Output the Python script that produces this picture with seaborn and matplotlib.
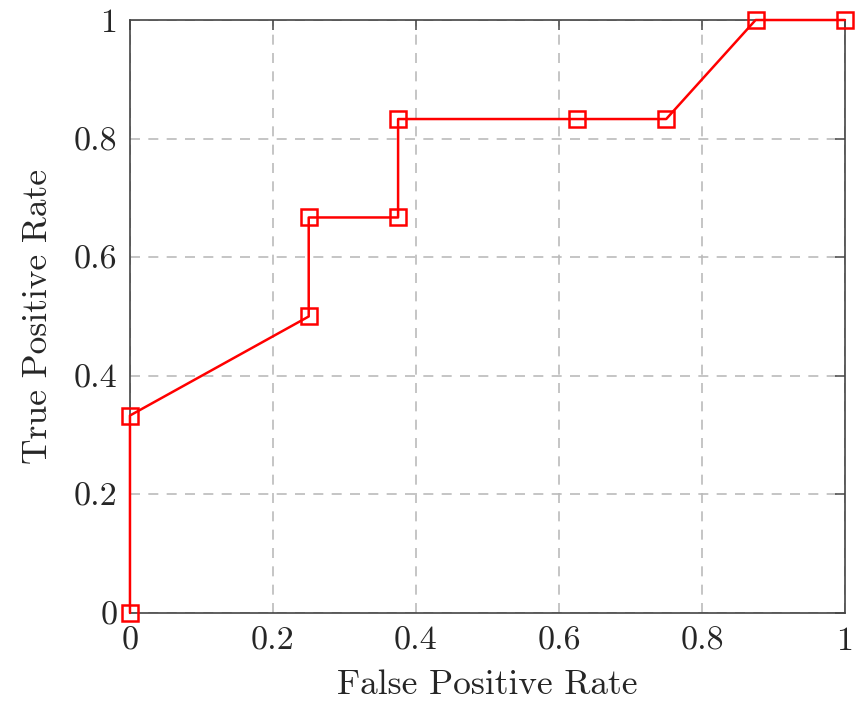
import matplotlib
matplotlib.use("Agg")
import pandas as pd
import seaborn as sns
import matplotlib.pyplot as plt

# ROC points
fpr = [0, 0, 0.25, 0.25, 0.375, 0.375, 0.625, 0.75, 0.875, 1]
tpr = [0, 0.333, 0.5, 0.667, 0.667, 0.833, 0.833, 0.833, 1, 1]
ticks = [0, 0.2, 0.4, 0.6, 0.8, 1]
tick_labels = ["0", "0.2", "0.4", "0.6", "0.8", "1"]

df = pd.DataFrame({"FPR": fpr, "TPR": tpr})

sns.set_style("white")
plt.rcParams["font.family"] = ["cmr10", "DejaVu Serif"]
plt.rcParams["axes.formatter.use_mathtext"] = True

fig = plt.figure(figsize=(8.63, 7.07), dpi=100)
ax = fig.add_axes([0.1506, 0.133, 0.8285, 0.8387])

sns.lineplot(data=df, x="FPR", y="TPR", sort=False, estimator=None,
             color="red", linewidth=1.8,
             marker="s", markersize=11, markerfacecolor="none",
             markeredgecolor="red", markeredgewidth=1.8, ax=ax, clip_on=False,
             zorder=5)

ax.set_xlim(0, 1)
ax.set_ylim(0, 1)
ax.set_xticks(ticks)
ax.set_xticklabels(tick_labels)
ax.set_yticks(ticks)
ax.set_yticklabels(tick_labels)
ax.grid(True, color="#bbbbbb", linestyle=(0, (6, 5)), linewidth=1.2)
ax.tick_params(direction="in", length=7, width=1.2, color="#555555",
               labelsize=24.5, top=True, right=True)
ax.tick_params(axis="x", pad=10)
ax.tick_params(axis="y", pad=9)
for s in ax.spines.values():
    s.set_color("#444444")
    s.set_linewidth(1.2)

ax.set_xlabel("False Positive Rate", fontsize=25.5, labelpad=10)
ax.set_ylabel("True Positive Rate", fontsize=25.5, labelpad=14)

plt.savefig("out.png", dpi=100)
plt.close()
